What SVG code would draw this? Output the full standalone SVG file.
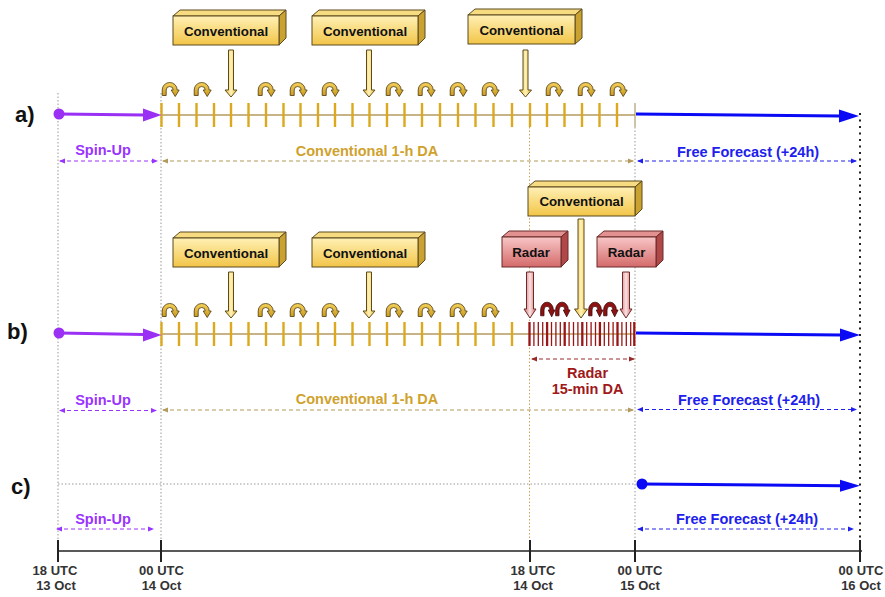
<svg xmlns="http://www.w3.org/2000/svg" xmlns:xlink="http://www.w3.org/1999/xlink" width="885" height="597" viewBox="0 0 885 597">
<style>
text{font-family:"Liberation Sans",Arial,sans-serif;font-weight:bold}
.box{font-size:13.3px;fill:#111;text-anchor:middle}
.lbl{font-size:14.5px;text-anchor:middle}
.axl{font-size:13px;fill:#333;text-anchor:middle}
.row{font-size:22px;fill:#111}
.purple{fill:#9933FF}
.blue{fill:#2020EE}
.gold{fill:#CFA22E}
.dred{fill:#A01818}
.tick{stroke:#DCA81E;stroke-width:2.4;fill:none}
.base{stroke:#B49A5C;stroke-width:1.5;fill:none}
.rtick{stroke:#9A1515;fill:none}
.vdot{stroke:#999;stroke-width:1;stroke-dasharray:1.5 2;fill:none}
.dash{stroke-width:1.2;stroke-dasharray:4 3;fill:none}
.yb{stroke:#5C4A1E;stroke-width:1}
.rb{stroke:#6A2A2A;stroke-width:1}
</style>
<defs>
<linearGradient id="yFront" x1="0" y1="0" x2="0" y2="1"><stop offset="0" stop-color="#FFF0B4"/><stop offset="1" stop-color="#F2C548"/></linearGradient>
<linearGradient id="rFront" x1="0" y1="0" x2="0" y2="1"><stop offset="0" stop-color="#F8C6C6"/><stop offset="1" stop-color="#D46A6A"/></linearGradient>
<linearGradient id="yArr" x1="0" y1="0" x2="1" y2="0"><stop offset="0" stop-color="#EDBB2E"/><stop offset="0.5" stop-color="#FFF2B8"/><stop offset="1" stop-color="#EDBB2E"/></linearGradient>
<linearGradient id="rArr" x1="0" y1="0" x2="1" y2="0"><stop offset="0" stop-color="#D46C6C"/><stop offset="0.5" stop-color="#FBE2E2"/><stop offset="1" stop-color="#D46C6C"/></linearGradient>
<linearGradient id="gCurl" x1="0" y1="0" x2="0" y2="1"><stop offset="0" stop-color="#F6D25A"/><stop offset="1" stop-color="#C8961E"/></linearGradient>
<path id="curlGold" d="M-7.5 5.5L-7.5 0A7.5 7.5 0 0 1 7.5 0L9.5 0L5.5 6.5L1.5 0L3.5 0A3.5 3.5 0 0 0 -3.5 0L-3.5 5.5Z" fill="url(#gCurl)" stroke="#4A3A10" stroke-width="0.8"/>
<path id="curlRed" d="M-7.5 5.5L-7.5 0A7.5 7.5 0 0 1 7.5 0L9.5 0L5.5 6.5L1.5 0L3.5 0A3.5 3.5 0 0 0 -3.5 0L-3.5 5.5Z" fill="#8E1212" stroke="#3A0505" stroke-width="0.8"/>
<marker id="mP" viewBox="0 0 6 6" refX="5" refY="3" markerWidth="6" markerHeight="6" orient="auto-start-reverse" markerUnits="userSpaceOnUse"><path d="M0 0.5L6 3L0 5.5Z" fill="#9933FF"/></marker>
<marker id="mB" viewBox="0 0 6 6" refX="5" refY="3" markerWidth="6" markerHeight="6" orient="auto-start-reverse" markerUnits="userSpaceOnUse"><path d="M0 0.5L6 3L0 5.5Z" fill="#2020EE"/></marker>
<marker id="mG" viewBox="0 0 6 6" refX="5" refY="3" markerWidth="6" markerHeight="6" orient="auto-start-reverse" markerUnits="userSpaceOnUse"><path d="M0 0.5L6 3L0 5.5Z" fill="#B49A5C"/></marker>
<marker id="mR" viewBox="0 0 6 6" refX="5" refY="3" markerWidth="6" markerHeight="6" orient="auto-start-reverse" markerUnits="userSpaceOnUse"><path d="M0 0.5L6 3L0 5.5Z" fill="#9A2A2A"/></marker>
</defs>
<rect width="885" height="597" fill="#fff"/>

<!-- vertical guide lines -->
<g id="guides">
<path class="vdot" d="M58 93V540M161 93V540M635 127V540"/>
<path d="M529.5 127V540" stroke="#C9A45A" stroke-width="1" stroke-dasharray="1.5 2" fill="none"/>
<path d="M860 113V548" stroke="#222" stroke-width="2" stroke-dasharray="2 4.5" fill="none"/>
<path class="vdot" d="M58 484H636"/>
</g>

<!-- axis -->
<g id="axis">
<path d="M58 551H862" stroke="#222" stroke-width="1.5" fill="none"/>
<path d="M58 540V562M161 540V562M530 540V562M635 540V562M860 540V562" stroke="#222" stroke-width="2" fill="none"/>
<text class="axl" x="55" y="575">18 UTC</text><text class="axl" x="56" y="590">13 Oct</text>
<text class="axl" x="161.5" y="575">00 UTC</text><text class="axl" x="161.5" y="590">14 Oct</text>
<text class="axl" x="533" y="575">18 UTC</text><text class="axl" x="533" y="590">14 Oct</text>
<text class="axl" x="640" y="575">00 UTC</text><text class="axl" x="640" y="590">15 Oct</text>
<text class="axl" x="861" y="575">00 UTC</text><text class="axl" x="861" y="590">16 Oct</text>
</g>

<!-- row labels -->
<text class="row" x="15" y="122">a)</text>
<text class="row" x="7" y="339">b)</text>
<text class="row" x="11" y="494">c)</text>

<!-- timelines -->
<g id="timeline-a">
<path class="base" d="M161 115H635"/>
<path class="tick" d="M161.5 103V127M179 103V127M196.5 103V127M214 103V127M231 103V127M248.5 103V127M266 103V127M283.5 103V127M300.5 103V127M318 103V127M335 103V127M352.5 103V127M369.5 103V127M387 103V127M404.5 103V127M422 103V127M440 103V127M458 103V127M475.5 103V127M493.5 103V127M512 103V127M530 103V127M547 103V127M564.5 103V127M582 103V127M599.5 103V127M617 103V127"/>
<path d="M635 103V127" stroke="#A08850" stroke-width="1" fill="none"/>
</g>
<g id="timeline-b">
<path class="base" d="M161 334H635"/>
<path class="tick" d="M161.5 322V346M179 322V346M196.5 322V346M214 322V346M231 322V346M248.5 322V346M266 322V346M283.5 322V346M300.5 322V346M318 322V346M335 322V346M352.5 322V346M369.5 322V346M387 322V346M404.5 322V346M422 322V346M440 322V346M458 322V346M475.5 322V346M493.5 322V346M512 322V346"/>
<path class="rtick" stroke-width="1.3" d="M533.9 322V346M538.3 322V346M542.7 322V346M551.5 322V346M555.9 322V346M560.3 322V346M569.1 322V346M573.5 322V346M577.9 322V346M586.7 322V346M591.1 322V346M595.5 322V346M604.3 322V346M608.7 322V346M613.1 322V346M621.9 322V346M626.3 322V346M630.7 322V346"/>
<path class="rtick" stroke-width="2.3" d="M529.5 322V346M547.1 322V346M564.7 322V346M582.3 322V346M599.9 322V346M617.5 322V346M634.3 322V346"/>
</g>

<!-- curl arrows -->
<g id="curls-a">
<use href="#curlGold" x="169.7" y="90"/><use href="#curlGold" x="201.7" y="90"/><use href="#curlGold" x="265.7" y="90"/><use href="#curlGold" x="297.7" y="90"/><use href="#curlGold" x="329.7" y="90"/><use href="#curlGold" x="393.7" y="90"/><use href="#curlGold" x="425.7" y="90"/><use href="#curlGold" x="457.7" y="90"/><use href="#curlGold" x="489.7" y="90"/><use href="#curlGold" x="553.7" y="90"/><use href="#curlGold" x="585.7" y="90"/><use href="#curlGold" x="617.7" y="90"/>
</g>
<g id="curls-b">
<use href="#curlGold" x="169.7" y="311"/><use href="#curlGold" x="201.7" y="311"/><use href="#curlGold" x="265.7" y="311"/><use href="#curlGold" x="297.7" y="311"/><use href="#curlGold" x="329.7" y="311"/><use href="#curlGold" x="393.7" y="311"/><use href="#curlGold" x="425.7" y="311"/><use href="#curlGold" x="457.7" y="311"/><use href="#curlGold" x="489.7" y="311"/>
<use href="#curlRed" transform="translate(547 310) scale(0.85 1.05)"/><use href="#curlRed" transform="translate(562 310) scale(0.85 1.05)"/><use href="#curlRed" transform="translate(595 310) scale(0.85 1.05)"/><use href="#curlRed" transform="translate(610 310) scale(0.85 1.05)"/>
</g>

<!-- nodes: boxes -->
<g id="conv-a1"><path class="yb" d="M173 16L180 10H286L279 16Z" fill="#F7DB80"/><path class="yb" d="M279 16L286 10V38L279 45Z" fill="#C9A232"/><rect class="yb" x="173" y="16" width="106" height="29" fill="url(#yFront)"/><text class="box" x="226" y="35.5">Conventional</text></g>
<g id="conv-a2"><path class="yb" d="M312 16L319 10H425L418 16Z" fill="#F7DB80"/><path class="yb" d="M418 16L425 10V38L418 45Z" fill="#C9A232"/><rect class="yb" x="312" y="16" width="106" height="29" fill="url(#yFront)"/><text class="box" x="365" y="35.5">Conventional</text></g>
<g id="conv-a3"><path class="yb" d="M468 15L475 9H582L575 15Z" fill="#F7DB80"/><path class="yb" d="M575 15L582 9V38L575 44Z" fill="#C9A232"/><rect class="yb" x="468" y="15" width="107" height="29" fill="url(#yFront)"/><text class="box" x="521.5" y="34.5">Conventional</text></g>
<g id="conv-b1"><path class="yb" d="M173 238L180 232H286L279 238Z" fill="#F7DB80"/><path class="yb" d="M279 238L286 232V260L279 267Z" fill="#C9A232"/><rect class="yb" x="173" y="238" width="106" height="29" fill="url(#yFront)"/><text class="box" x="226" y="257.5">Conventional</text></g>
<g id="conv-b2"><path class="yb" d="M312 238L319 232H425L418 238Z" fill="#F7DB80"/><path class="yb" d="M418 238L425 232V260L418 267Z" fill="#C9A232"/><rect class="yb" x="312" y="238" width="106" height="29" fill="url(#yFront)"/><text class="box" x="365" y="257.5">Conventional</text></g>
<g id="conv-b3"><path class="yb" d="M528 187L535 181H642L635 187Z" fill="#F7DB80"/><path class="yb" d="M635 187L642 181V209L635 216Z" fill="#C9A232"/><rect class="yb" x="528" y="187" width="107" height="29" fill="url(#yFront)"/><text class="box" x="581.5" y="206">Conventional</text></g>
<g id="radar-b1"><path class="rb" d="M502 237L509 231H568L561 237Z" fill="#E29090"/><path class="rb" d="M561 237L568 231V260L561 267Z" fill="#B04848"/><rect class="rb" x="502" y="237" width="59" height="30" fill="url(#rFront)"/><text class="box" x="531" y="256.5">Radar</text></g>
<g id="radar-b2"><path class="rb" d="M597 237L604 231H663L656 237Z" fill="#E29090"/><path class="rb" d="M656 237L663 231V260L656 267Z" fill="#B04848"/><rect class="rb" x="597" y="237" width="59" height="30" fill="url(#rFront)"/><text class="box" x="626.5" y="256.5">Radar</text></g>

<!-- connectors -->
<g id="connectors">
<path class="yb" fill="url(#yArr)" d="M228.5 50H233.5V90H237L231 97L225 90H228.5Z"/>
<path class="yb" fill="url(#yArr)" d="M366.5 50H371.5V90H375L369 97L363 90H366.5Z"/>
<path class="yb" fill="url(#yArr)" d="M523 50H528V90H531.5L525.5 97L519.5 90H523Z"/>
<path class="yb" fill="url(#yArr)" d="M228.5 272H233.5V311H237L231 318L225 311H228.5Z"/>
<path class="yb" fill="url(#yArr)" d="M366.5 272H371.5V311H375L369 318L363 311H366.5Z"/>
<path class="yb" fill="url(#yArr)" d="M578 219H584V309H587.5L581 318L574.5 309H578Z"/>
<path class="rb" fill="url(#rArr)" d="M526.5 272H533.5V309H536L530 318L524 309H526.5Z"/>
<path class="rb" fill="url(#rArr)" d="M622.5 272H629.5V309H632L626 318L620 309H622.5Z"/>
<!-- purple spin-up arrows -->
<circle cx="59" cy="114" r="5.5" fill="#9B30F5"/>
<path d="M59 114L144 115" stroke="#9B30F5" stroke-width="3" fill="none"/>
<path d="M143 108.5L161.5 115L143 121.5Z" fill="#9B30F5"/>
<circle cx="59" cy="333" r="5.5" fill="#9B30F5"/>
<path d="M59 333L144 334.5" stroke="#9B30F5" stroke-width="3" fill="none"/>
<path d="M143 328.5L161.5 335L143 341.5Z" fill="#9B30F5"/>
<!-- blue forecast arrows -->
<path d="M636 114L841 116" stroke="#0A0AF5" stroke-width="3" fill="none"/>
<path d="M839 109.5L859 116L839 122.5Z" fill="#0A0AF5"/>
<path d="M636 333L841 335" stroke="#0A0AF5" stroke-width="3" fill="none"/>
<path d="M840 328.5L860 335L840 341.5Z" fill="#0A0AF5"/>
<circle cx="642" cy="484" r="5.5" fill="#0A0AF5"/>
<path d="M642 484L841 485.8" stroke="#0A0AF5" stroke-width="3" fill="none"/>
<path d="M840 479.8L860 485.8L840 491.8Z" fill="#0A0AF5"/>
</g>

<!-- span labels -->
<g id="spans-a">
<path class="dash" stroke="#9933FF" d="M60 161H157" marker-start="url(#mP)" marker-end="url(#mP)"/>
<path class="dash" stroke="#B49A5C" d="M163 161H633" marker-start="url(#mG)" marker-end="url(#mG)"/>
<path class="dash" stroke="#2020EE" d="M638 161H856" marker-start="url(#mB)" marker-end="url(#mB)"/>
<text class="lbl purple" x="103" y="155">Spin-Up</text>
<text class="lbl gold" x="367" y="156">Conventional 1-h DA</text>
<text class="lbl blue" x="748" y="156.5">Free Forecast (+24h)</text>
</g>
<g id="spans-b">
<path class="dash" stroke="#9A2A2A" d="M532 359H634" marker-start="url(#mR)" marker-end="url(#mR)"/>
<text class="lbl dred" x="587.5" y="378">Radar</text>
<text class="lbl dred" x="587.5" y="394">15-min DA</text>
<path class="dash" stroke="#9933FF" d="M60 410.5H156" marker-start="url(#mP)" marker-end="url(#mP)"/>
<path class="dash" stroke="#B49A5C" d="M163 410H633" marker-start="url(#mG)" marker-end="url(#mG)"/>
<path class="dash" stroke="#2020EE" d="M638 409.5H856" marker-start="url(#mB)" marker-end="url(#mB)"/>
<text class="lbl purple" x="103" y="404.5">Spin-Up</text>
<text class="lbl gold" x="367" y="403.5">Conventional 1-h DA</text>
<text class="lbl blue" x="749" y="404.5">Free Forecast (+24h)</text>
</g>
<g id="spans-c">
<path class="dash" stroke="#9933FF" d="M57 529H153" marker-start="url(#mP)" marker-end="url(#mP)"/>
<path class="dash" stroke="#2020EE" d="M638 529H853" marker-start="url(#mB)" marker-end="url(#mB)"/>
<text class="lbl purple" x="103" y="523.5">Spin-Up</text>
<text class="lbl blue" x="747" y="524">Free Forecast (+24h)</text>
</g>
</svg>
